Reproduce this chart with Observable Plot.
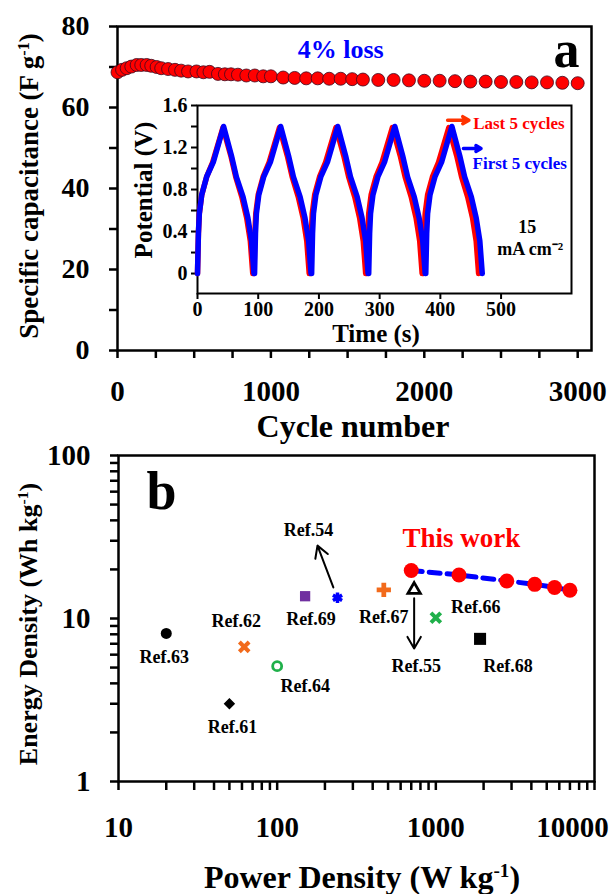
<!DOCTYPE html>
<html><head><meta charset="utf-8">
<script src="https://cdn.jsdelivr.net/npm/d3@7"></script>
<script src="https://cdn.jsdelivr.net/npm/@observablehq/plot@0.6"></script>
<style>
body{margin:0;background:#fff;}
#wrap{position:relative;width:615px;height:894px;overflow:hidden;font-family:"Liberation Serif","Times New Roman",serif;font-weight:bold;background:#fff;}
.layer{position:absolute;left:0;}
.lab{position:absolute;white-space:nowrap;color:#000;line-height:1;}
.rot{transform:translate(-50%,-50%) rotate(-90deg);}
.hor{transform:translate(-50%,-50%);}
sup{font-size:60%;vertical-align:0.55em;line-height:0;}
</style></head><body><div id="wrap"></div>
<script>
// ---------- Panel a: cycling stability ----------
const cycles = [0, 30, 60, 90, 125, 155, 190, 220, 255, 285, 330, 375, 415, 460, 515, 560, 600, 655, 700, 740, 785, 840, 895, 950, 1000,
  1080, 1155, 1230, 1305, 1380, 1455, 1530,
  1600, 1700, 1800, 1900, 2000, 2100, 2200, 2300, 2400, 2500, 2600, 2700, 2800, 2900, 3000];
const capacitance = [68.7, 69.3, 69.7, 70.1, 70.5, 70.5, 70.5, 70.3, 70.0, 69.7, 69.5, 69.3, 69.1, 68.9, 68.9, 68.7, 68.8, 68.3, 68.2, 68.2, 68.1, 67.9, 67.9, 67.7, 67.7,
  67.4, 67.3, 67.2, 67.2, 67.1, 67.1, 67.0,
  66.9, 66.8, 66.8, 66.7, 66.6, 66.6, 66.5, 66.4, 66.4, 66.3, 66.3, 66.2, 66.2, 66.1, 66.0];
const capTicks = [0, 10, 20, 30, 40, 50, 60, 70, 80];
const capLabels = [0, 20, 40, 60, 80];
const cycleTicks = [0, 250, 500, 750, 1000, 1250, 1500, 1750, 2000, 2250, 2500, 2750, 3000];
const cycleLabels = [0, 1000, 2000, 3000];

// ---------- Inset: galvanostatic charge-discharge ----------
const blueTime = [0,1.5,3,7,15,26,43,56,64,75,83,89,93,
  94,95.5,97,101,109,120,137,150,158,169,177,183,187,
  188,189.5,191,195,203,214,231,244,252,263,271,277,281,
  282,283.5,285,289,297,308,325,338,346,357,365,371,375,
  376,377.5,379,383,391,402,419,432,440,451,459,465,469];
const bluePotential = [0,0.38,0.57,0.75,0.92,1.06,1.40,1.12,0.92,0.73,0.53,0.31,0,
  0,0.38,0.57,0.75,0.92,1.06,1.40,1.12,0.92,0.73,0.53,0.31,0,
  0,0.38,0.57,0.75,0.92,1.06,1.40,1.12,0.92,0.73,0.53,0.31,0,
  0,0.38,0.57,0.75,0.92,1.06,1.40,1.12,0.92,0.73,0.53,0.31,0,
  0,0.38,0.57,0.75,0.92,1.06,1.40,1.12,0.92,0.73,0.53,0.31,0];
const redTime = [0,1.5,3,7,15,25,42,55,63,73,81,87,91,
  93,94.5,96,100,108,118,135,148,156,166,174,180,184,
  186,187.5,189,193,201,211,228,241,249,259,267,273,277,
  279,280.5,282,286,294,304,321,334,342,352,360,366,370,
  372,373.5,375,379,387,397,414,427,435,445,453,459,463];
const redPotential = [0,0.38,0.57,0.75,0.92,1.06,1.39,1.12,0.92,0.73,0.53,0.31,0,
  0,0.38,0.57,0.75,0.92,1.06,1.39,1.12,0.92,0.73,0.53,0.31,0,
  0,0.38,0.57,0.75,0.92,1.06,1.39,1.12,0.92,0.73,0.53,0.31,0,
  0,0.38,0.57,0.75,0.92,1.06,1.39,1.12,0.92,0.73,0.53,0.31,0,
  0,0.38,0.57,0.75,0.92,1.06,1.39,1.12,0.92,0.73,0.53,0.31,0];
const potentialTicks = [0, 0.2, 0.4, 0.6, 0.8, 1.0, 1.2, 1.4, 1.6];
const potentialLabels = [0, 0.4, 0.8, 1.2, 1.6];
const timeTicks = [0, 100, 200, 300, 400, 500];

// ---------- Panel b: Ragone plot ----------
const refNames  = ["Ref.63", "Ref.62", "Ref.64", "Ref.61", "Ref.69", "Ref.54", "Ref.67", "Ref.55", "Ref.66", "Ref.68"];
const refPower  = [20, 62, 100, 50, 150, 240, 470, 730, 1000, 1900];
const refEnergy = [8.1, 6.7, 5.1, 3.0, 13.7, 13.4, 15.0, 15.0, 10.1, 7.5];
const thisPower  = [700, 1400, 2800, 4200, 5600, 7000];
const thisEnergy = [19.7, 18.5, 17.0, 16.2, 15.5, 14.9];
const energyTicks = [1,2,3,4,5,6,7,8,9,10,20,30,40,50,60,70,80,90,100];
const powerTicks = [10,20,30,40,50,60,70,80,90,100,200,300,400,500,600,700,800,900,1000,2000,3000,4000,5000,6000,7000,8000,9000,10000];
const energyLabels = [1, 10, 100];
const powerLabels = [10, 100, 1000];
const powerLastLabel = ["10000"];

// ---------- styles (not data) ----------
const FONT = "Liberation Serif, Times New Roman, serif";
const baseStyle = {fontFamily: FONT, fontWeight: "bold", background: "transparent", overflow: "visible", color: "black"};
const ORANGE = "#f26a1b", GREEN = "#1fb04a", PURPLE = "#7030a0";
const markerStyle = {
  "Ref.63": {symbol: "circle", fill: "black", r: 5.5},
  "Ref.62": {symbol: "times", stroke: ORANGE, strokeWidth: 4, r: 4.5},
  "Ref.64": {symbol: "circle", fill: "none", stroke: GREEN, strokeWidth: 2.8, r: 4.5},
  "Ref.61": {symbol: "diamond2", fill: "black", stroke: "black", r: 4.2},
  "Ref.69": {symbol: "square", fill: PURPLE, r: 5.8},
  "Ref.54": {symbol: "asterisk", stroke: "blue", strokeWidth: 3.5, r: 5},
  "Ref.67": {symbol: "cross", fill: ORANGE, r: 6},
  "Ref.55": {symbol: "triangle", fill: "white", stroke: "black", strokeWidth: 2.8, r: 4.6},
  "Ref.66": {symbol: "times", stroke: GREEN, strokeWidth: 4, r: 4.5},
  "Ref.68": {symbol: "square", fill: "black", r: 6.8}
};
const labelOffset = {
  "Ref.63": [-2, 24], "Ref.62": [-8, -26], "Ref.64": [28, 20], "Ref.61": [3, 24], "Ref.69": [6, 23],
  "Ref.54": [-29, -68], "Ref.67": [0, 27], "Ref.55": [2, 76], "Ref.66": [40, -11], "Ref.68": [28, 27]
};
const plain = d => String(d);

const wrap = document.getElementById("wrap");
function place(el, top) { el.classList.add("layer"); el.style.top = top + "px"; wrap.appendChild(el); }

// Panel a main
const plotA = Plot.plot({
  width: 615, height: 440,
  marginLeft: 117, marginRight: 24, marginTop: 26, marginBottom: 90,
  x: {type: "linear", domain: [0, 3090]},
  y: {type: "linear", domain: [0, 80]},
  style: baseStyle,
  marks: [
    Plot.frame({stroke: "black", strokeWidth: 2.5}),
    Plot.axisY(capTicks, {tickFormat: d => capLabels.includes(d) ? plain(d) : "", tickSize: 8, tickPadding: 20, strokeWidth: 2.5, fontSize: 28, fontWeight: "bold", label: null}),
    Plot.axisX(cycleTicks, {tickFormat: d => cycleLabels.includes(d) ? plain(d) : "", tickSize: 8, tickPadding: 22, strokeWidth: 2.5, fontSize: 29, fontWeight: "bold", label: null}),
    Plot.dot(capacitance, {x: cycles, y: capacitance, r: 6.5, fill: "#ff0000", stroke: "#3a0a20", strokeWidth: 0.8}),
    Plot.text(["4% loss"], {x: 1455, y: 74.3, fill: "blue", fontSize: 26, fontWeight: "bold"}),
    Plot.text(["a"], {frameAnchor: "top-right", dx: -12, dy: 24, lineAnchor: "middle", textAnchor: "end", fontSize: 52, fontWeight: "bold"})
  ]
});
place(plotA, 0);

// Inset
const plotInset = Plot.plot({
  width: 615, height: 440,
  marginLeft: 197, marginRight: 44, marginTop: 105, marginBottom: 147,
  x: {type: "linear", domain: [0, 616]},
  y: {type: "linear", domain: [-0.19, 1.6]},
  style: baseStyle,
  marks: [
    Plot.frame({fill: "white", stroke: "black", strokeWidth: 2}),
    Plot.axisY(potentialTicks, {tickFormat: d => potentialLabels.includes(d) ? plain(d) : "", tickSize: 6, tickPadding: 4, strokeWidth: 2, fontSize: 20, fontWeight: "bold", label: null}),
    Plot.axisX(timeTicks, {tickFormat: plain, tickSize: 6, tickPadding: 2, strokeWidth: 2, fontSize: 20, fontWeight: "bold", label: null}),
    Plot.line(redPotential, {x: redTime, y: redPotential, stroke: "#ff0000", strokeWidth: 5.5, strokeLinejoin: "round"}),
    Plot.line(bluePotential, {x: blueTime, y: bluePotential, stroke: "#0000ff", strokeWidth: 5.5, strokeLinejoin: "round"}),
    Plot.arrow([0], {x1: 412, y1: 1.46, x2: 447, y2: 1.46, stroke: "#ff3300", strokeWidth: 3.5, headLength: 10}),
    Plot.arrow([0], {x1: 438, y1: 1.19, x2: 467, y2: 1.19, stroke: "blue", strokeWidth: 3.5, headLength: 10}),
    Plot.text(["Last 5 cycles"], {x: 454, y: 1.43, textAnchor: "start", fill: "#ff0000", fontSize: 17, fontWeight: "bold"}),
    Plot.text(["First 5 cycles"], {x: 453, y: 1.05, textAnchor: "start", fill: "blue", fontSize: 17, fontWeight: "bold"}),
    Plot.text(["15"], {x: 543, y: 0.44, fontSize: 18, fontWeight: "bold"}),
    Plot.text(["mA cm⁻²"], {x: 548, y: 0.23, fontSize: 18, fontWeight: "bold"})
  ]
});
place(plotInset, 0);

// Panel b
const refMarks = [];
refNames.forEach((name, i) => {
  const s = markerStyle[name];
  refMarks.push(Plot.dot([i], {x: j => refPower[j], y: j => refEnergy[j], ...s}));
  const [dx, dy] = labelOffset[name];
  refMarks.push(Plot.text([i], {x: j => refPower[j], y: j => refEnergy[j], text: j => refNames[j], dx, dy, fontSize: 18, fontWeight: "bold"}));
});
const plotB = Plot.plot({
  width: 615, height: 454,
  marginLeft: 118, marginRight: 21, marginTop: 15, marginBottom: 113,
  x: {type: "log", domain: [10, 10000]},
  y: {type: "log", domain: [1, 100]},
  style: baseStyle,
  marks: [
    Plot.frame({stroke: "black", strokeWidth: 2.5}),
    Plot.axisY(energyTicks, {tickFormat: d => energyLabels.includes(d) ? plain(d) : "", tickSize: 8, tickPadding: 20, strokeWidth: 2.5, fontSize: 29, fontWeight: "bold", label: null}),
    Plot.axisX(powerTicks, {tickFormat: d => powerLabels.includes(d) ? plain(d) : "", tickSize: 9, tickPadding: 26, strokeWidth: 2.5, fontSize: 29, fontWeight: "bold", label: null}),
    Plot.text(powerLastLabel, {x: d => +d, text: d => d, frameAnchor: "bottom", lineAnchor: "top", dy: 35, dx: -22, fontSize: 29, fontWeight: "bold"}),
    Plot.arrow([0], {x1: 226, y1: 15.5, x2: 179.5, y2: 28, stroke: "black", strokeWidth: 2, headLength: 10}),
    Plot.arrow([0], {x1: 730, y1: 13.3, x2: 730, y2: 6.55, stroke: "black", strokeWidth: 2, headLength: 10}),
    ...refMarks,
    Plot.line(thisEnergy, {x: thisPower, y: thisEnergy, stroke: "blue", strokeWidth: 5, strokeDasharray: "11,7"}),
    Plot.dot(thisEnergy, {x: thisPower, y: thisEnergy, r: 7.5, fill: "#ff0000"}),
    Plot.text(["This work"], {x: 1450, y: 31, fill: "#ff0000", fontSize: 27, fontWeight: "bold"}),
    Plot.text(["b"], {frameAnchor: "top-left", dx: 28, dy: 36, lineAnchor: "middle", textAnchor: "start", fontSize: 54, fontWeight: "bold"})
  ]
});
place(plotB, 440);

// Axis titles (HTML text with superscripts)
function label(html, x, y, size, rotated) {
  const d = document.createElement("div");
  d.className = "lab " + (rotated ? "rot" : "hor");
  d.style.left = x + "px"; d.style.top = y + "px"; d.style.fontSize = size + "px";
  d.innerHTML = html;
  wrap.appendChild(d);
}
label("Specific capacitance (F g<sup>-1</sup>)", 29, 186, 27, true);
label("Cycle number", 353, 426, 32, false);
label("Potential (V)", 143, 190, 25, true);
label("Time (s)", 376, 333, 25, false);
label("Energy Density (Wh kg<sup>-1</sup>)", 29, 624, 26, true);
label("Power Density (W kg<sup>-1</sup>)", 362, 877, 32, false);
</script></body></html>
